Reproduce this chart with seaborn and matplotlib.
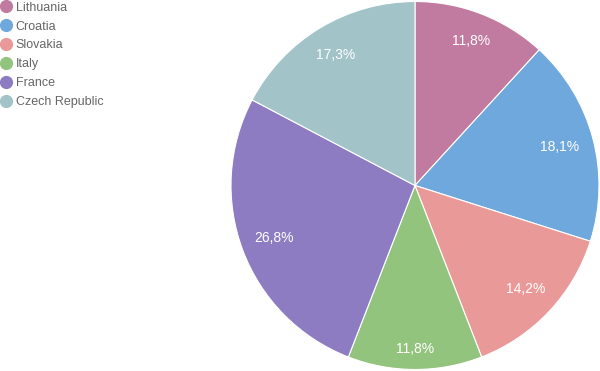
import numpy as np
import seaborn as sns
import matplotlib.pyplot as plt
from matplotlib.lines import Line2D

countries = ["Lithuania", "Croatia", "Slovakia", "Italy", "France", "Czech Republic"]
shares = [11.8, 18.1, 14.2, 11.8, 26.8, 17.3]
colors = ["#C27BA0", "#6FA8DC", "#EA9999", "#93C47D", "#8E7CC3", "#A2C4C9"]
label_dist = [0.845, 0.815, 0.825, 0.89, 0.82, 0.83]

sns.set_theme(style="white")
plt.rcParams['font.family'] = ['Liberation Sans', 'DejaVu Sans']
palette = sns.color_palette(colors)

fig = plt.figure(figsize=(6, 3.71), dpi=100)
ax = fig.add_axes([0.385, 0.004, 0.6133, 0.992])

wedges, texts = ax.pie(shares, colors=palette, startangle=90, counterclock=False,
                       wedgeprops=dict(edgecolor="white", linewidth=0.8))
ax.set_aspect("equal")
ax.set_xlim(-1, 1)
ax.set_ylim(-1, 1)

for w, val, d in zip(wedges, shares, label_dist):
    ang = np.deg2rad((w.theta1 + w.theta2) / 2)
    ax.text(d * np.cos(ang), d * np.sin(ang), f"{val:.1f}%".replace(".", ","),
            ha="center", va="center", color="white", fontsize=10)

handles = [Line2D([], [], marker="o", linestyle="", markersize=8.5,
                  markerfacecolor=c, markeredgecolor=c) for c in colors]
fig.legend(handles, countries, loc="upper left", bbox_to_anchor=(-0.008, 1.009),
           frameon=False, fontsize=9, labelcolor="#666666", handlelength=0.9,
           handletextpad=0.35, labelspacing=0.55, borderaxespad=0)

fig.savefig("out.png", dpi=100)
